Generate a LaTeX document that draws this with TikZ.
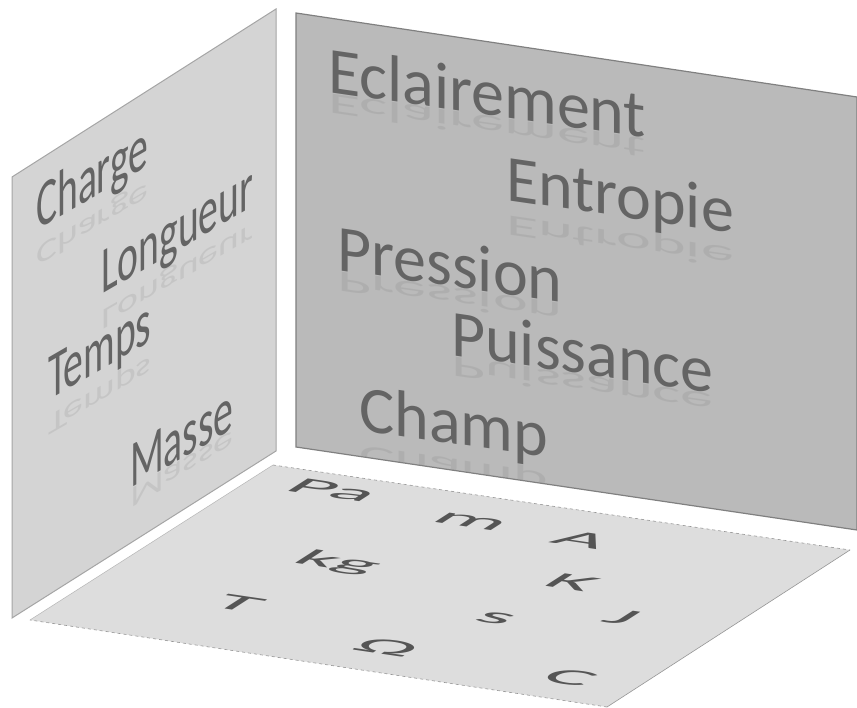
\documentclass[tikz,border=0pt]{standalone}
\usepackage{fontspec}
\setmainfont{Carlito}
\definecolor{leftfill}{RGB}{212,212,212}
\definecolor{leftedge}{RGB}{165,165,165}
\definecolor{rightfill}{RGB}{186,186,186}
\definecolor{rightedge}{RGB}{128,128,128}
\definecolor{floorfill}{RGB}{221,221,221}
\definecolor{flooredge}{RGB}{150,150,150}
\definecolor{txt}{RGB}{100,100,100}
\definecolor{floortxt}{RGB}{85,85,85}
\tikzset{
  word/.style={inner sep=0pt, text=txt, font=\fontsize{66}{70}\selectfont},
  lword/.style={word, anchor=base west, cm={0.6,0.348,0,1,(0,0)}},
  lrefl/.style={word, anchor=south west, text opacity=0.13, cm={0.6,0.348,0,-0.45,(0,0)}},
  rword/.style={word, anchor=base west, cm={1,-0.145,0,1,(0,0)}},
  rrefl/.style={word, anchor=south west, text opacity=0.13, cm={1,-0.145,0,-0.45,(0,0)}},
  unit/.style={inner sep=0pt, anchor=center, text=floortxt, font=\fontsize{80}{84}\selectfont, cm={1.05,-0.154,0.379,0.243,(0,0)}}
}
\begin{document}
\begin{tikzpicture}[x=1pt,y=-1pt]
\useasboundingbox (0,0) rectangle (857,708);
\fill[white] (0,0) rectangle (857,708);
% panels
\filldraw[fill=leftfill, draw=leftedge, line width=1pt] (12,177) -- (276,9) -- (276,451) -- (12,618) -- cycle;
\filldraw[fill=rightfill, draw=rightedge, line width=1.2pt] (296,13) -- (857,97) -- (857,530) -- (296,447) -- cycle;
\fill[floorfill] (273,465) -- (850,550) -- (607,707) -- (30,620) -- cycle;
\draw[flooredge, dashed, line width=0.6pt] (273,465) -- (850,550);
\draw[flooredge, dashed, line width=0.6pt] (607,707) -- (30,620);
\draw[flooredge, line width=0.6pt] (850,550) -- (607,707);
\draw[flooredge!70, line width=0.5pt] (30,620) -- (273,465);
% left panel words
\node[lword] (charge) at (36,231) {Charge};
\node[lword] (longueur) at (101,295) {Longueur};
\node[lword] (temps) at (48,401) {Temps};
\node[lword] (masse) at (130,489) {Masse};
\begin{scope}
\clip (13,178) -- (275,10) -- (275,450) -- (13,617) -- cycle;
\node[lrefl] (chargeR) at (charge.south west) {Charge};
\node[lrefl] (longueurR) at (longueur.south west) {Longueur};
\node[lrefl] (tempsR) at (temps.south west) {Temps};
\node[lrefl] (masseR) at (masse.south west) {Masse};
\end{scope}
% right panel words
\node[rword] (eclair) at (328,92) {Eclairement};
\node[rword] (entropie) at (506,200) {Entropie};
\node[rword] (pression) at (337,270) {Pression};
\node[rword] (puissance) at (451,355) {Puissance};
\node[rword] (champ) at (359,430) {Champ};
\begin{scope}
\clip (297,14) -- (857,98) -- (857,529) -- (297,446) -- cycle;
\node[rrefl] (eclairR) at (eclair.south west) {Eclairement};
\node[rrefl] (entropieR) at (entropie.south west) {Entropie};
\node[rrefl] (pressionR) at (pression.south west) {Pression};
\node[rrefl] (puissanceR) at (puissance.south west) {Puissance};
\node[rrefl] (champR) at (champ.south west) {Champ};
\end{scope}
% floor units
\node[unit] (pa) at (333,490) {Pa};
\node[unit] (m) at (470,522) {m};
\node[unit] (A) at (582,540) {A};
\node[unit] (kg) at (337,563) {kg};
\node[unit] (K) at (572,582) {K};
\node[unit] (T) at (238,603) {T};
\node[unit] (s) at (495,618) {s};
\node[unit] (J) at (622,617) {J};
\node[unit] (ohm) at (387,647) {Ω};
\node[unit] (C) at (570,678) {C};
\end{tikzpicture}
\end{document}
